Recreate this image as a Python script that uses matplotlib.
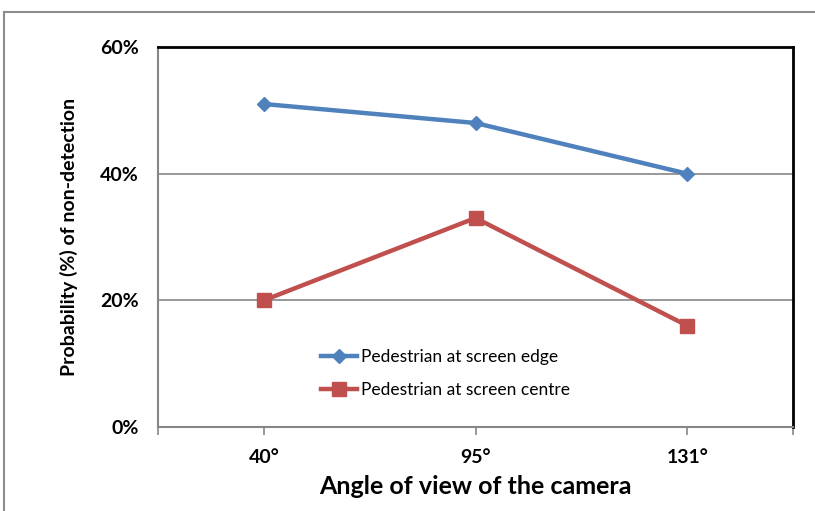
import matplotlib
matplotlib.use("Agg")
import matplotlib.pyplot as plt
from matplotlib.lines import Line2D

# data
angles = ["40°", "95°", "131°"]
edge_pct = [51, 48, 40]
centre_pct = [20, 33, 16]
y_ticks = [0, 20, 40, 60]

plt.rcParams["font.family"] = ["Lato", "DejaVu Sans"]

fig = plt.figure(figsize=(8.15, 5.11), dpi=100)
ax = fig.add_axes([158 / 815, 1 - 427 / 511, 635 / 815, 380 / 511])

x = list(range(len(angles)))
ax.plot(x, edge_pct, color="#4F81BD", linewidth=3.2, marker="D",
        markersize=7, label="Pedestrian at screen edge")
ax.plot(x, centre_pct, color="#C0504D", linewidth=3.2, marker="s",
        markersize=10, label="Pedestrian at screen centre")

ax.set_xlim(-0.5, len(angles) - 0.5)
ax.set_ylim(0, 60)
ax.set_xticks(x)
ax.set_xticklabels(angles, fontsize=14, fontweight="bold")
ax.set_xticks([-0.5, len(angles) - 0.5], minor=True)
ax.set_yticks(y_ticks)
ax.set_yticklabels([f"{v}%" for v in y_ticks], fontsize=14, fontweight="bold")
ax.tick_params(axis="x", which="both", direction="out", length=6,
               color="#868686", width=1.2, pad=10)
ax.tick_params(axis="y", length=0, pad=14)

ax.grid(axis="y", color="#868686", linewidth=1.2)
ax.set_axisbelow(True)

for side in ["left", "bottom"]:
    ax.spines[side].set_color("#868686")
    ax.spines[side].set_linewidth(1.5)
for side in ["top", "right"]:
    ax.spines[side].set_color("black")
    ax.spines[side].set_linewidth(2)

ax.set_ylabel("Probability (%) of non-detection", fontsize=14,
              fontweight="bold", labelpad=16)
ax.set_xlabel("Angle of view of the camera", fontsize=18,
              fontweight="bold", labelpad=6)

ax.legend(loc="lower left", bbox_to_anchor=(0.232, 0.035), frameon=False,
          fontsize=12.5, handlelength=2.1, handletextpad=0.2,
          labelspacing=1.0)

# outer chart border (left and top edges visible)
fig.add_artist(Line2D([4 / 815, 4 / 815], [0, 1 - 12 / 511],
                      transform=fig.transFigure, color="#8c8c8c", linewidth=1.5))
fig.add_artist(Line2D([4 / 815, 1], [1 - 12 / 511, 1 - 12 / 511],
                      transform=fig.transFigure, color="#8c8c8c", linewidth=1.5))

fig.savefig("out.png", dpi=100)
